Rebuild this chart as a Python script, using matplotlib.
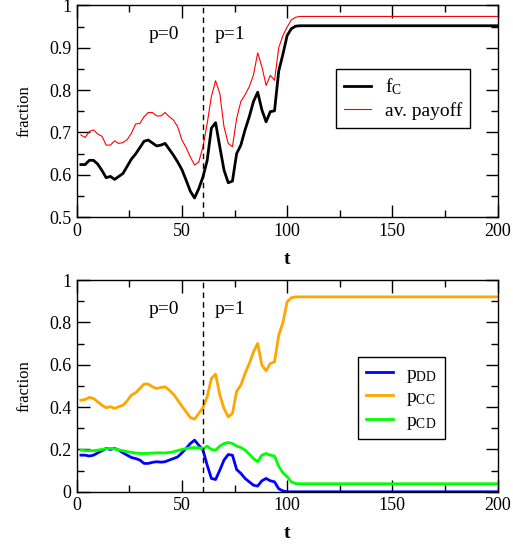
import matplotlib
matplotlib.use("Agg")
import matplotlib.pyplot as plt
from matplotlib.ticker import MultipleLocator

plt.rcParams['font.family'] = ['Liberation Serif', 'DejaVu Serif']
plt.rcParams['mathtext.fontset'] = 'custom'
plt.rcParams['mathtext.rm'] = 'Liberation Serif'
plt.rcParams['mathtext.it'] = 'Liberation Serif:italic'

# ── data ────────────────────────────────────────────────────────────────────
t = [2, 4, 6, 8, 10, 12, 14, 16, 18, 20, 22, 24, 26, 28, 30, 32, 34, 36, 38, 40,
     42, 44, 46, 48, 50, 52, 54, 56, 58, 60, 62, 64, 66, 68, 70, 72, 74, 76, 78, 80,
     82, 84, 86, 88, 90, 92, 94, 96, 98, 100, 102, 104, 106, 200]

f_c = [0.624, 0.624, 0.634, 0.634, 0.625, 0.610, 0.593, 0.596, 0.589, 0.596,
       0.603, 0.620, 0.637, 0.649, 0.664, 0.679, 0.682, 0.675, 0.668, 0.670,
       0.674, 0.660, 0.646, 0.630, 0.612, 0.587, 0.561, 0.545, 0.567, 0.595,
       0.634, 0.710, 0.723, 0.666, 0.611, 0.581, 0.585, 0.650, 0.670, 0.706,
       0.737, 0.773, 0.795, 0.753, 0.725, 0.749, 0.751, 0.845, 0.885, 0.929,
       0.945, 0.951, 0.952, 0.952]

payoff = [0.694, 0.688, 0.702, 0.706, 0.696, 0.691, 0.670, 0.670, 0.680, 0.674,
          0.676, 0.683, 0.698, 0.720, 0.721, 0.737, 0.747, 0.747, 0.739, 0.739,
          0.747, 0.737, 0.729, 0.713, 0.682, 0.664, 0.642, 0.623, 0.630, 0.666,
          0.721, 0.785, 0.822, 0.792, 0.713, 0.674, 0.666, 0.733, 0.773, 0.789,
          0.808, 0.836, 0.888, 0.855, 0.811, 0.835, 0.823, 0.900, 0.929, 0.949,
          0.966, 0.972, 0.974, 0.974]

p_cc = [0.433, 0.436, 0.446, 0.441, 0.425, 0.409, 0.397, 0.402, 0.394, 0.402,
        0.409, 0.430, 0.457, 0.468, 0.488, 0.509, 0.509, 0.496, 0.488, 0.493,
        0.496, 0.480, 0.461, 0.433, 0.405, 0.378, 0.351, 0.343, 0.370, 0.398,
        0.449, 0.535, 0.556, 0.457, 0.394, 0.354, 0.370, 0.475, 0.504, 0.559,
        0.606, 0.661, 0.701, 0.598, 0.572, 0.606, 0.614, 0.740, 0.800, 0.898,
        0.917, 0.921, 0.921, 0.921]

p_dd = [0.173, 0.173, 0.169, 0.173, 0.184, 0.194, 0.205, 0.200, 0.205, 0.197,
        0.184, 0.173, 0.162, 0.157, 0.150, 0.134, 0.134, 0.139, 0.142, 0.140,
        0.142, 0.150, 0.157, 0.165, 0.184, 0.205, 0.228, 0.244, 0.220, 0.197,
        0.126, 0.063, 0.058, 0.102, 0.150, 0.176, 0.173, 0.105, 0.087, 0.063,
        0.047, 0.031, 0.027, 0.052, 0.063, 0.052, 0.047, 0.014, 0.004, 0.0,
        0.0, 0.0, 0.0, 0.0]

p_cd = [0.197, 0.194, 0.194, 0.194, 0.197, 0.200, 0.203, 0.205, 0.203, 0.198,
        0.194, 0.190, 0.186, 0.183, 0.181, 0.181, 0.181, 0.183, 0.184, 0.184,
        0.183, 0.186, 0.189, 0.195, 0.200, 0.204, 0.208, 0.209, 0.208, 0.203,
        0.216, 0.200, 0.197, 0.216, 0.228, 0.233, 0.228, 0.216, 0.209, 0.197,
        0.178, 0.157, 0.142, 0.173, 0.181, 0.173, 0.169, 0.120, 0.090, 0.071,
        0.047, 0.039, 0.038, 0.038]

x_ticks = [0, 50, 100, 150, 200]
top_yticks = [0.5, 0.6, 0.7, 0.8, 0.9, 1.0]
top_ylabels = ["0.5", "0.6", "0.7", "0.8", "0.9", "1"]
bot_yticks = [0.0, 0.2, 0.4, 0.6, 0.8, 1.0]
bot_ylabels = ["0", "0.2", "0.4", "0.6", "0.8", "1"]
t_switch = 60

# ── layout ──────────────────────────────────────────────────────────────────
fig = plt.figure(figsize=(5.13, 5.44), dpi=100)
ax1 = fig.add_axes([0.1495, 0.601, 0.8205, 0.389])
ax2 = fig.add_axes([0.1495, 0.096, 0.8205, 0.389])


def style(ax, yticks, ylabels, yminor):
    ax.set_xlim(0, 200)
    ax.set_xticks(x_ticks)
    ax.xaxis.set_minor_locator(MultipleLocator(25))
    ax.set_yticks(yticks)
    ax.set_yticklabels(ylabels)
    ax.yaxis.set_minor_locator(MultipleLocator(yminor))
    ax.set_ylim(yticks[0], yticks[-1])
    ax.tick_params(which='both', direction='in', top=True, right=True,
                   labelsize=13, width=1)
    ax.tick_params(which='major', length=9, pad=4)
    ax.tick_params(which='minor', length=5)
    for s in ax.spines.values():
        s.set_linewidth(1)
    ax.set_xlabel("t", fontsize=14, fontweight='bold', labelpad=8)
    ax.set_ylabel("fraction", fontsize=12, labelpad=12)
    ax.axvline(t_switch, color='black', lw=1, dashes=(4, 3))
    ax.text(41.5, 0.84, "p=0", fontsize=14, ha='center', va='baseline',
            transform=ax.get_xaxis_transform())
    ax.text(73, 0.84, "p=1", fontsize=14, ha='center', va='baseline',
            transform=ax.get_xaxis_transform())


leg_kw = dict(loc='upper left', fontsize=14, frameon=True, fancybox=False,
              framealpha=1, edgecolor='black', handlelength=1.4,
              handletextpad=0.7, borderaxespad=0, borderpad=0.4)

# ── top panel ───────────────────────────────────────────────────────────────
ax1.plot(t, f_c, color='black', lw=2, label=r'$\mathrm{f_C}$')
ax1.plot(t, payoff, color='red', lw=0.8, label='av. payoff')
style(ax1, top_yticks, top_ylabels, 0.05)
leg1 = ax1.legend(bbox_to_anchor=(0.616, 0.70), labelspacing=0.25, **leg_kw)
leg1.get_frame().set_linewidth(1)

# ── bottom panel ────────────────────────────────────────────────────────────
ax2.plot(t, p_dd, color='#0000ff', lw=2, label=r'$\mathrm{p_{DD}}$')
ax2.plot(t, p_cc, color='#ffa500', lw=2, label=r'$\mathrm{p_{CC}}$')
ax2.plot(t, p_cd, color='#00ff00', lw=2, label=r'$\mathrm{p_{CD}}$')
style(ax2, bot_yticks, bot_ylabels, 0.1)
leg2 = ax2.legend(bbox_to_anchor=(0.668, 0.636), labelspacing=0.2, **leg_kw)
leg2.get_frame().set_linewidth(1)

fig.savefig("out.png", dpi=100)
